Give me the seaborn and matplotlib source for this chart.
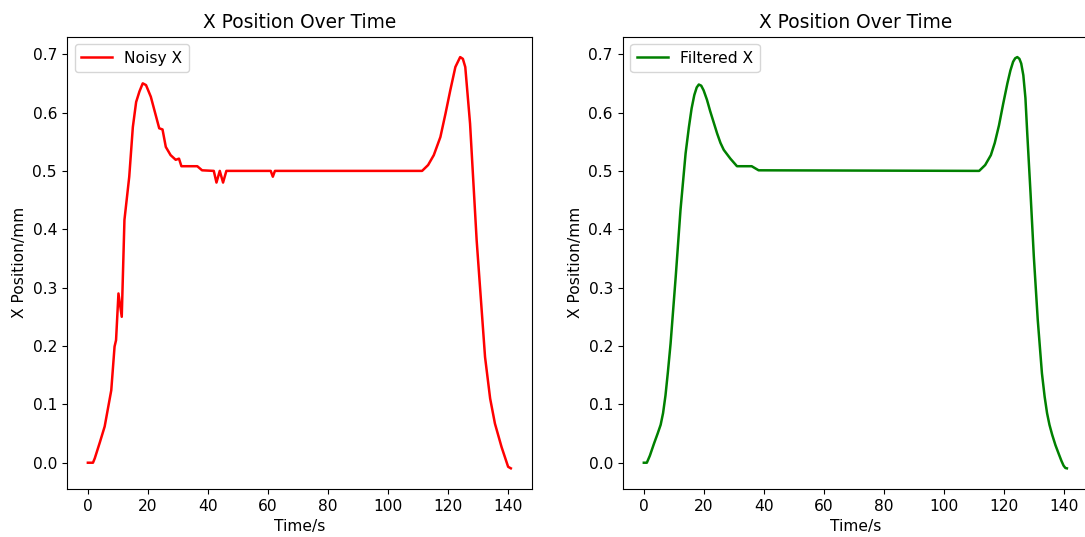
import matplotlib
matplotlib.use("Agg")
import matplotlib.pyplot as plt
import seaborn as sns
import pandas as pd

# Raw (noisy) X position samples
noisy_t = [0, 1.7, 2.3, 4.0, 5.6, 7.8, 8.9, 9.4, 10.2, 11.3, 12.2, 13.8, 15.0, 16.1,
           17.2, 18.3, 19.4, 21.0, 23.8, 24.9, 26.0, 27.6, 29.3, 30.4, 31.2, 36.5,
           38.1, 42.0, 42.9, 44.0, 45.1, 46.2, 61.0, 61.7, 62.4, 111.5, 113.5,
           115.4, 117.6, 119.3, 120.9, 122.6, 124.2, 125.1, 125.9, 127.5, 129.7,
           132.5, 134.2, 135.8, 138.0, 140.2, 141.1]
noisy_x = [0.0, 0.0, 0.0075, 0.035, 0.062, 0.124, 0.199, 0.21, 0.29, 0.25, 0.416,
           0.49, 0.575, 0.618, 0.636, 0.65, 0.647, 0.627, 0.573, 0.571, 0.541,
           0.527, 0.519, 0.521, 0.508, 0.508, 0.501, 0.5, 0.48, 0.5, 0.48, 0.5,
           0.5, 0.49, 0.5, 0.5, 0.51, 0.527, 0.558, 0.598, 0.638, 0.678, 0.695,
           0.692, 0.678, 0.581, 0.381, 0.181, 0.11, 0.067, 0.027, -0.007, -0.0096]

# Filtered X position estimate
filt_t = [0, 1.0, 2.0, 3.4, 4.6, 5.6, 6.4, 7.2, 8.0, 8.9, 10.6, 12.2, 13.9, 15.0,
          15.9, 16.8, 17.6, 18.3, 19.1, 19.9, 21.0, 22.1, 24.4, 25.5, 26.6, 28.8,
          31.0, 35.9, 38.2, 111.6, 113.6, 115.5, 116.8, 118.2, 119.6, 121.0, 122.0,
          122.9, 123.6, 124.3, 125.0, 125.6, 126.3, 127.0, 127.6, 128.7, 129.8,
          131.1, 132.5, 133.4, 134.2, 135.0, 135.9, 137.0, 138.1, 139.0, 139.7,
          140.3, 140.8]
filt_x = [0.0, 0.0, 0.012, 0.033, 0.05, 0.065, 0.085, 0.115, 0.155, 0.204, 0.318,
          0.433, 0.53, 0.575, 0.607, 0.63, 0.643, 0.648, 0.646, 0.638, 0.622,
          0.602, 0.564, 0.548, 0.536, 0.521, 0.508, 0.508, 0.501, 0.5, 0.51,
          0.527, 0.548, 0.578, 0.615, 0.65, 0.672, 0.687, 0.693, 0.695, 0.692,
          0.684, 0.664, 0.625, 0.565, 0.462, 0.353, 0.245, 0.153, 0.113, 0.085,
          0.065, 0.048, 0.03, 0.015, 0.003, -0.005, -0.009, -0.0096]

noisy_df = pd.DataFrame({"Time/s": noisy_t, "X Position/mm": noisy_x})
filt_df = pd.DataFrame({"Time/s": filt_t, "X Position/mm": filt_x})

plt.rcParams.update({
    "font.size": 11.2,
    "axes.titlesize": 13.4,
    "axes.labelsize": 11.2,
    "xtick.labelsize": 11.2,
    "ytick.labelsize": 11.2,
    "legend.fontsize": 11.2,
})

fig = plt.figure(figsize=(10.85, 5.37), dpi=100)
ax1 = fig.add_axes([0.0615, 0.0896, 0.4288, 0.8424])
ax2 = fig.add_axes([0.5739, 0.0896, 0.4289, 0.8424])

sns.lineplot(data=noisy_df, x="Time/s", y="X Position/mm", ax=ax1,
             color="red", linewidth=1.8, label="Noisy X")
sns.lineplot(data=filt_df, x="Time/s", y="X Position/mm", ax=ax2,
             color="green", linewidth=1.8, label="Filtered X")

for ax in (ax1, ax2):
    ax.set_title("X Position Over Time")
    ax.set_xlabel("Time/s")
    ax.set_ylabel("X Position/mm")
    ax.set_xticks([0, 20, 40, 60, 80, 100, 120, 140])
    ax.set_yticks([0.0, 0.1, 0.2, 0.3, 0.4, 0.5, 0.6, 0.7])
    ax.legend(loc="upper left")

fig.savefig("out.png", dpi=100)
